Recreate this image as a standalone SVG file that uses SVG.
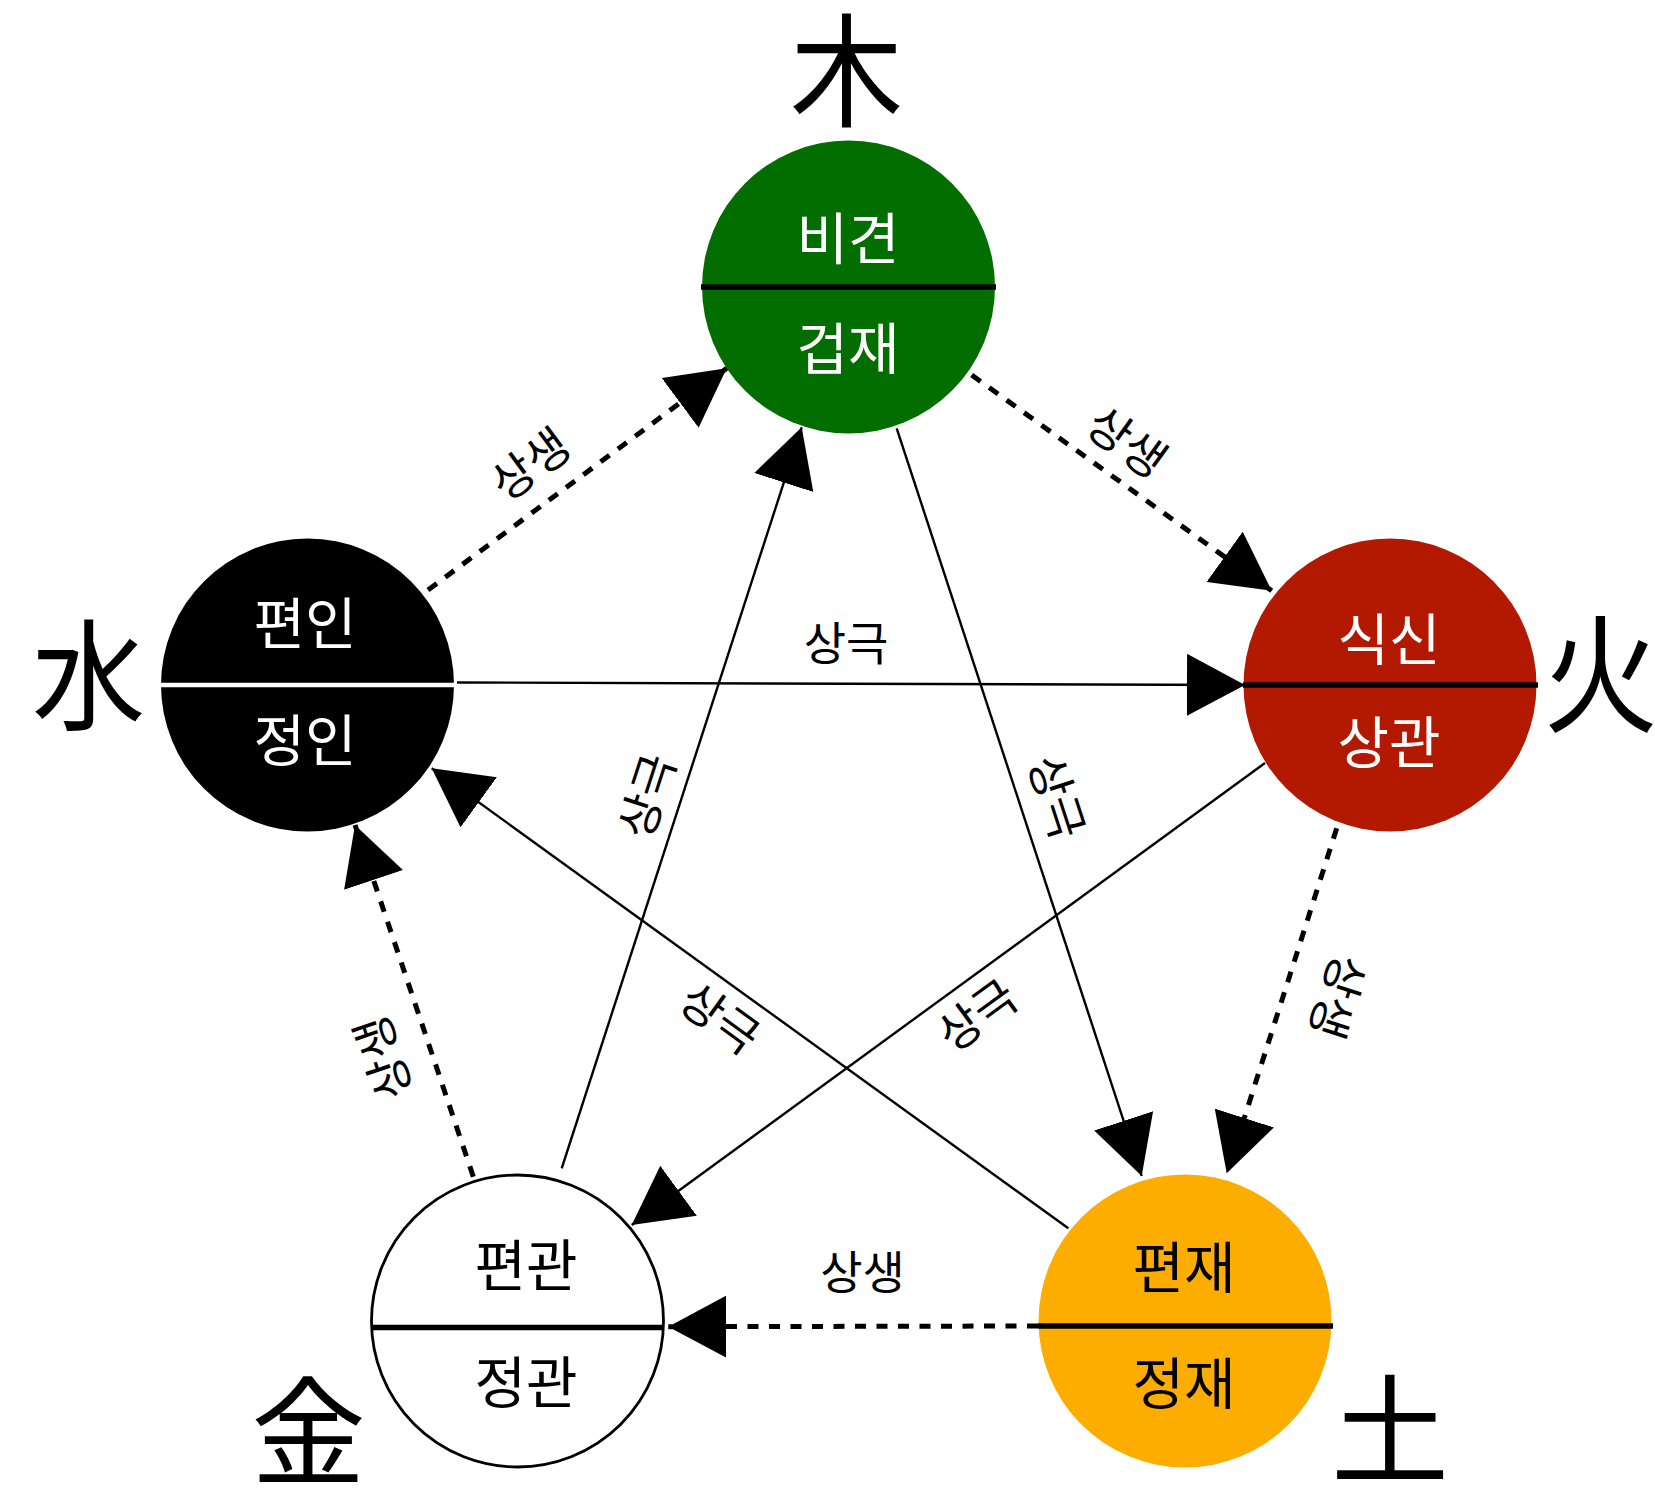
<svg xmlns="http://www.w3.org/2000/svg" width="1655" height="1489" viewBox="0 0 1655 1489">
<style>
text{font-family:'Noto Sans CJK KR','Noto Sans CJK SC',sans-serif;text-anchor:middle}
.nt{font-size:56px}
.big{font-size:123px;fill:#000}
.lb{font-size:46px;fill:#000}
.w{fill:#fff}
.k{fill:#000}
.div{stroke-width:5.5}
.gen{stroke:#000;stroke-width:5;stroke-dasharray:11 10.5;fill:none;marker-end:url(#ah)}
.ctl{stroke:#000;stroke-width:2.4;fill:none;marker-end:url(#ah)}
</style>
<defs>
<marker id="ah" viewBox="0 0 58 62" refX="58" refY="31" markerWidth="58" markerHeight="62" orient="auto" markerUnits="userSpaceOnUse">
<path d="M0,0 L58,31 L0,62 Z" fill="#000"/>
</marker>
</defs>

<g id="wood">
<circle cx="848.5" cy="287" r="146.5" fill="#036e00"/>
<line class="div" x1="701" y1="287" x2="996" y2="287" stroke="#000"/>
<text class="nt w" x="848" y="259">비견</text>
<text class="nt w" x="848" y="369">겁재</text>
<text class="big" transform="translate(846.5,117) scale(0.92,1)">木</text>
</g>

<g id="fire">
<circle cx="1390" cy="685" r="146.5" fill="#b31800"/>
<line class="div" x1="1243" y1="685" x2="1538" y2="685" stroke="#000"/>
<text class="nt w" x="1389" y="660">식신</text>
<text class="nt w" x="1389" y="763">상관</text>
<text class="big" transform="translate(1601,723) scale(0.93,1.05)">火</text>
</g>

<g id="water">
<circle cx="307.5" cy="685" r="146.5" fill="#000"/>
<line x1="161" y1="685" x2="454" y2="685" stroke="#fff" stroke-width="4.5"/>
<text class="nt w" x="305" y="644">편인</text>
<text class="nt w" x="305" y="761">정인</text>
<text class="big" transform="translate(88.5,721) scale(0.92,0.98)">水</text>
</g>

<g id="earth">
<circle cx="1185" cy="1321" r="146.5" fill="#fcad00"/>
<line class="div" x1="1038" y1="1326" x2="1333" y2="1326" stroke="#000"/>
<text class="nt k" x="1184" y="1288">편재</text>
<text class="nt k" x="1184" y="1404">정재</text>
<text class="big" transform="translate(1390,1475) scale(0.96,0.97)">土</text>
</g>

<g id="metal">
<circle cx="517.5" cy="1321" r="146" fill="#fff" stroke="#000" stroke-width="2.8"/>
<line class="div" x1="371" y1="1327.5" x2="664" y2="1327.5" stroke="#000"/>
<text class="nt k" x="526" y="1286">편관</text>
<text class="nt k" x="526" y="1403">정관</text>
<text class="big" transform="translate(308.5,1476) scale(0.93,0.96)">金</text>
</g>

<g id="connectors">
<line class="gen" x1="428" y1="590" x2="726.7" y2="368.3"/>
<line class="gen" x1="971.7" y1="375" x2="1271.7" y2="590.7"/>
<line class="gen" x1="1336.7" y1="828.3" x2="1226.7" y2="1173.3"/>
<line class="gen" x1="1038" y1="1326" x2="668.3" y2="1326.7"/>
<line class="gen" x1="473.3" y1="1176.7" x2="355" y2="825"/>
<line class="ctl" x1="457" y1="682.5" x2="1245" y2="685"/>
<line class="ctl" x1="896.7" y1="428.3" x2="1141.7" y2="1176"/>
<line class="ctl" x1="1265" y1="763" x2="631.7" y2="1225"/>
<line class="ctl" x1="1068.3" y1="1228.3" x2="431.7" y2="768.3"/>
<line class="ctl" x1="561.7" y1="1168.3" x2="801.7" y2="427.3"/>
</g>

<g id="labels">
<text class="lb" transform="translate(530,464) rotate(-36.6)" y="17">상생</text>
<text class="lb" transform="translate(1127,442) rotate(35.7)" y="17">상생</text>
<text class="lb" transform="translate(1338,997) rotate(107.7)" y="17">상생</text>
<text class="lb" x="862.5" y="1289">상생</text>
<text class="lb" transform="translate(383,1058) rotate(-108.6)" y="17">상생</text>
<text class="lb" x="846" y="660">상극</text>
<text class="lb" transform="translate(647,796) rotate(-72)" y="17">상극</text>
<text class="lb" transform="translate(1057,797) rotate(71.9)" y="17">상극</text>
<text class="lb" transform="translate(720,1018) rotate(35.9)" y="17">상극</text>
<text class="lb" transform="translate(977,1015) rotate(-36.1)" y="17">상극</text>
</g>
</svg>
